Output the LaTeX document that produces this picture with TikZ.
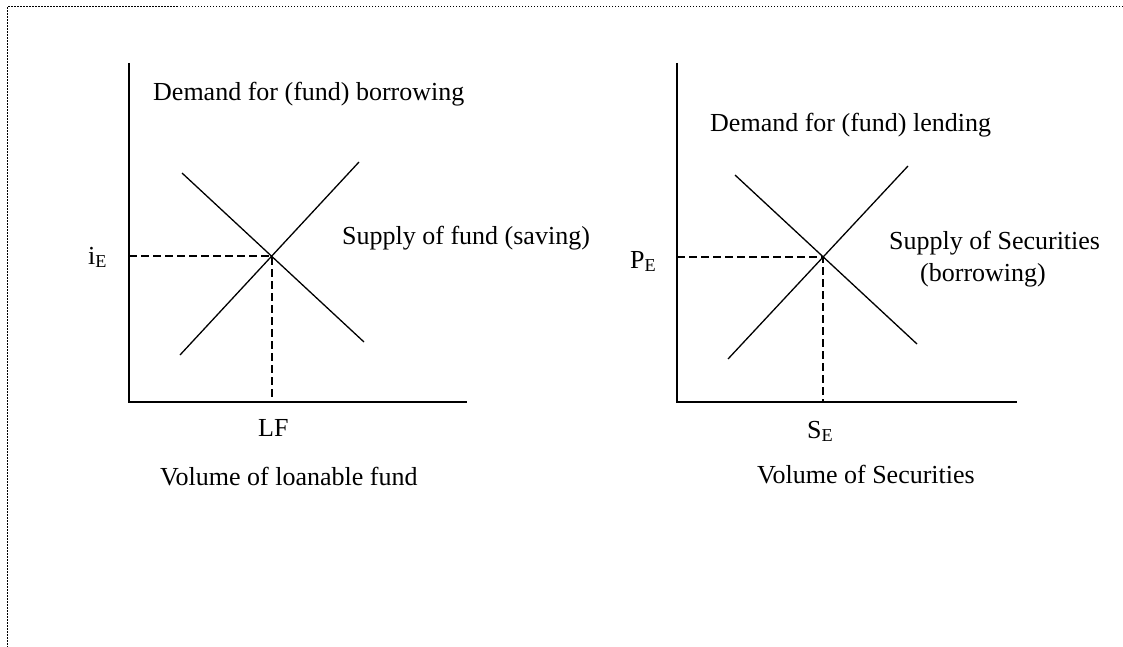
\documentclass[tikz,border=0pt]{standalone}
\usepackage{fontspec}
\setmainfont{Liberation Serif}

\tikzset{
	lbl/.style={anchor=base west, inner sep=0pt, font=\fontsize{26}{30}\selectfont},
	axis/.style={line width=2pt},
	curve/.style={line width=1.3pt},
	guide/.style={line width=1.5pt, dash pattern=on 8pt off 4pt},
}

\begin{document}
\begin{tikzpicture}[x=1pt,y=-1pt]
	\newcommand\axbot{402}
	\newcommand\axtop{63}
	\useasboundingbox (0,0) rectangle (1123,647);
	\draw[line width=1pt, dash pattern=on 1.5pt off 1.5pt] (1123,7) -- (7,7) -- (7,647);
	% loanable fund market
	\draw[axis] (129,\axtop) -- (129,\axbot) -- (467,\axbot);
	\draw[curve] (182,173) -- (364,342);
	\draw[curve] (180,355) -- (359,162);
	\coordinate (eqA) at (272,256);
	\coordinate (iA) at (129,256);
	\coordinate (qA) at (272,\axbot);
	\draw[guide] (iA) -- (eqA) -- (qA);
	\node[lbl] (demA) at (153,101) {Demand for (fund) borrowing};
	\node[lbl] (supA) at (342,244) {Supply of fund (saving)};
	\node[lbl] (iE) at (88,264) {i\textsubscript{E}};
	\node[lbl] (LF) at (258,436) {LF};
	\node[lbl] (volA) at (160,485) {Volume of loanable fund};
	% securities market
	\draw[axis] (677,\axtop) -- (677,\axbot) -- (1017,\axbot);
	\draw[curve] (735,175) -- (917,344);
	\draw[curve] (728,359) -- (908,166);
	\coordinate (eqB) at (823,257);
	\coordinate (pB) at (677,257);
	\coordinate (qB) at (823,\axbot);
	\draw[guide] (pB) -- (eqB) -- (qB);
	\node[lbl] (demB) at (710,132) {Demand for (fund) lending};
	\node[lbl] (supB) at (889,249) {Supply of Securities};
	\node[lbl] (borB) at (920,281) {(borrowing)};
	\node[lbl] (PE) at (630,268) {P\textsubscript{E}};
	\node[lbl] (SE) at (807,438) {S\textsubscript{E}};
	\node[lbl] (volB) at (757,483) {Volume of Securities};
\end{tikzpicture}
\end{document}
